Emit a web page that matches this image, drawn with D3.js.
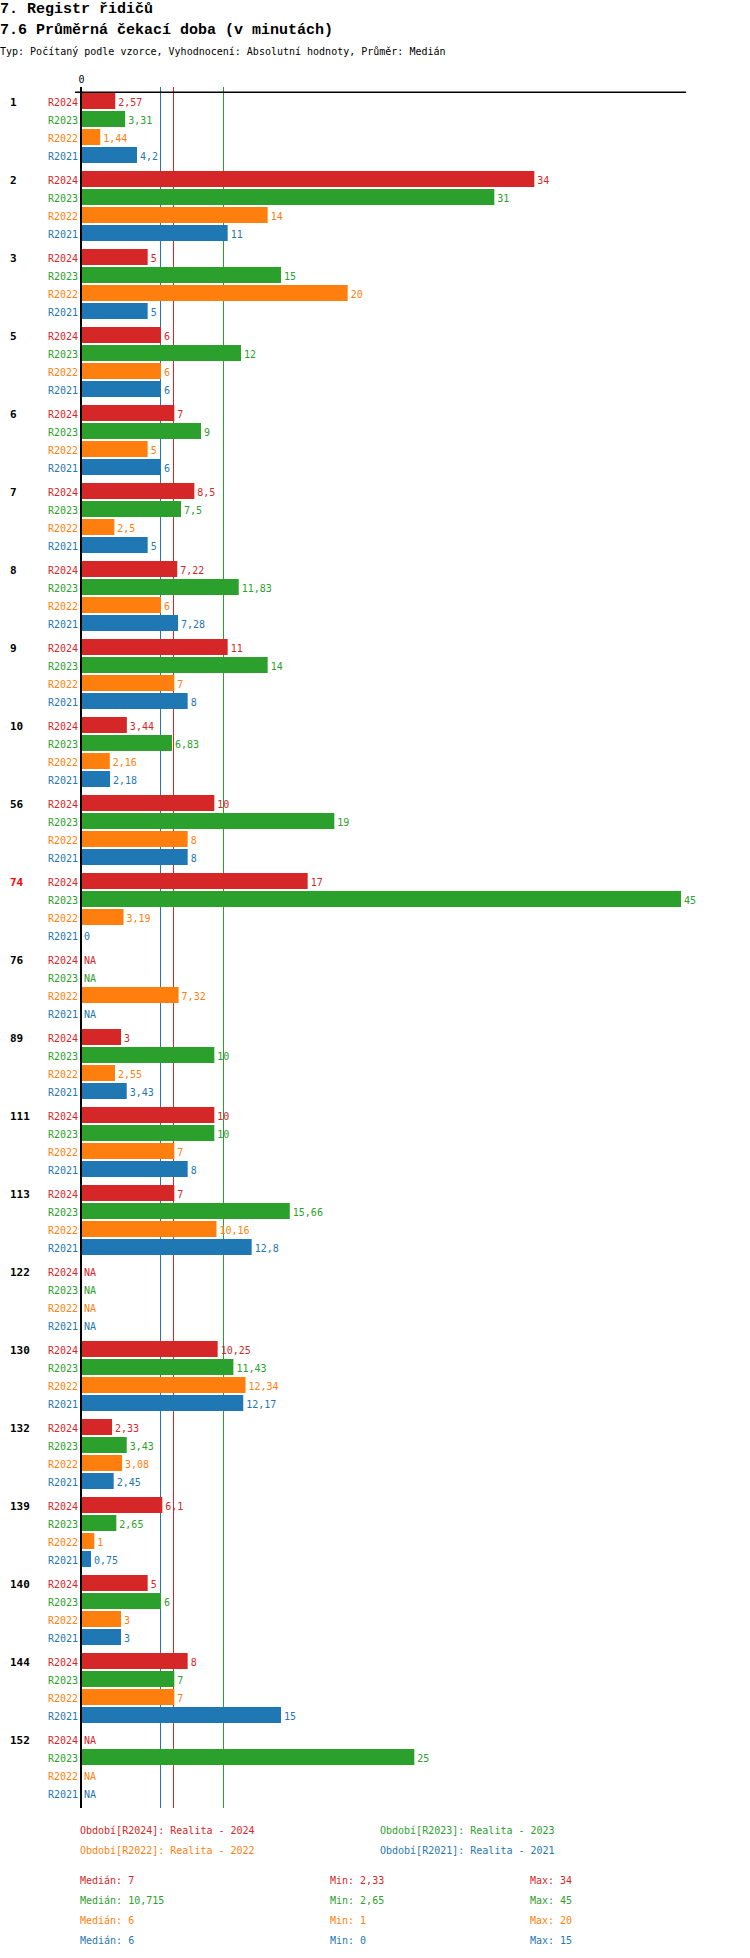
<!DOCTYPE html>
<meta charset="utf-8">
<style>
  body { margin: 0; background: #fff; }
  text { font-family: "DejaVu Sans Mono", monospace; }
</style>
<svg width="750" height="1958"></svg>

<script src="https://d3js.org/d3.v7.min.js"></script>

<script>
// data, null = NA
const categories = ['1', '2', '3', '5', '6', '7', '8', '9', '10', '56', '74', '76', '89', '111', '113', '122', '130', '132', '139', '140', '144', '152']
const series = ['R2024', 'R2023', 'R2022', 'R2021']
const seriesNames = ['Realita - 2024', 'Realita - 2023', 'Realita - 2022', 'Realita - 2021']
const r2024 = [2.57, 34, 5, 6, 7, 8.5, 7.22, 11, 3.44, 10, 17, null, 3, 10, 7, null, 10.25, 2.33, 6.1, 5, 8, null]
const r2023 = [3.31, 31, 15, 12, 9, 7.5, 11.83, 14, 6.83, 19, 45, null, 10, 10, 15.66, null, 11.43, 3.43, 2.65, 6, 7, 25]
const r2022 = [1.44, 14, 20, 6, 5, 2.5, 6, 7, 2.16, 8, 3.19, 7.32, 2.55, 7, 10.16, null, 12.34, 3.08, 1, 3, 7, null]
const r2021 = [4.2, 11, 5, 6, 6, 5, 7.28, 8, 2.18, 8, 0, null, 3.43, 8, 12.8, null, 12.17, 2.45, 0.75, 3, 15, null]
const highlighted = ['74']

const values = [r2024, r2023, r2022, r2021]
const colours = ['#d62728', '#2ca02c', '#ff7f0e', '#1f77b4']
const colour = d3.scaleOrdinal().domain(series).range(colours)

const svg = d3.select('svg')
const fmt = v => v === null ? 'NA' : String(+v.toFixed(3)).replace('.', ',')

// titles
svg.append('text').attr('x', 0).attr('y', 13)
  .style('font-family', '"Liberation Mono", monospace').attr('font-weight', 'bold').attr('font-size', 15)
  .text('7. Registr řidičů')
svg.append('text').attr('x', 0).attr('y', 34)
  .style('font-family', '"Liberation Mono", monospace').attr('font-weight', 'bold').attr('font-size', 15)
  .text('7.6 Průměrná čekací doba (v minutách)')
svg.append('text').attr('x', 0).attr('y', 55).attr('font-size', 10)
  .text('Typ: Počítaný podle vzorce, Vyhodnocení: Absolutní hodnoty, Průměr: Medián')

// scales
const x = d3.scaleLinear().domain([0, 45]).range([80, 680])
const y = d3.scaleBand().domain(categories).range([93, 93 + categories.length * 78])
const yInner = d3.scaleBand().domain(series).range([0, 70]).paddingInner(2 / 18)

const lineTop = 87, lineBottom = y.range()[1] - 1

const rows = []
categories.forEach((c, i) => {
  series.forEach((s, j) => rows.push({ cat: c, s: s, v: values[j][i] }))
})

const stats = series.map((s, j) => {
  const vs = values[j].filter(v => v !== null)
  return { s: s, median: d3.median(vs), min: d3.min(vs), max: d3.max(vs) }
})

// median lines (behind bars)
svg.append('g')
  .selectAll('line')
  .data(stats)
  .enter().append('line')
  .attr('x1', d => Math.round(x(d.median)) + 0.5)
  .attr('x2', d => Math.round(x(d.median)) + 0.5)
  .attr('y1', lineTop).attr('y2', lineBottom)
  .attr('stroke', d => colour(d.s))
  .attr('stroke-width', 1)

// axis
const axis = svg.append('g')
  .attr('transform', 'translate(1,' + 87 + ')')
  .call(d3.axisTop(x).tickValues([0]).tickSize(0).tickPadding(4))
axis.select('.domain').remove()
axis.selectAll('text').attr('font-size', 10).style('font-family', '"DejaVu Sans Mono", monospace').attr('fill', '#000')

svg.append('line')
  .attr('x1', x(0) - 5).attr('x2', x(45) + 6)
  .attr('y1', 92.3).attr('y2', 92.3)
  .attr('stroke', '#000').attr('stroke-width', 1.4)

// bars
svg.append('g')
  .selectAll('rect')
  .data(rows.filter(d => d.v !== null))
  .enter().append('rect')
  .attr('x', x(0) + 1)
  .attr('y', d => y(d.cat) + yInner(d.s))
  .attr('width', d => x(d.v) - x(0))
  .attr('height', yInner.bandwidth())
  .attr('fill', d => colour(d.s))

// zero line
svg.append('line')
  .attr('x1', x(0) + 1).attr('x2', x(0) + 1)
  .attr('y1', lineTop).attr('y2', lineBottom)
  .attr('stroke', '#000').attr('stroke-width', 2)

// value labels
svg.append('g')
  .selectAll('text')
  .data(rows)
  .enter().append('text')
  .attr('x', d => x(d.v || 0) + 4)
  .attr('y', d => y(d.cat) + yInner(d.s) + yInner.bandwidth() / 2 + 1)
  .attr('dy', '0.35em')
  .attr('font-size', 10)
  .attr('fill', d => colour(d.s))
  .text(d => fmt(d.v))

// series labels
svg.append('g')
  .selectAll('text')
  .data(rows)
  .enter().append('text')
  .attr('x', x(0) - 2)
  .attr('y', d => y(d.cat) + yInner(d.s) + yInner.bandwidth() / 2 + 1)
  .attr('dy', '0.35em')
  .attr('text-anchor', 'end')
  .attr('font-size', 10)
  .attr('fill', d => colour(d.s))
  .text(d => d.s)

// category labels
svg.append('g')
  .selectAll('text')
  .data(categories)
  .enter().append('text')
  .attr('x', 10)
  .attr('y', d => y(d) + yInner.bandwidth() / 2 + 1)
  .attr('dy', '0.35em')
  .attr('font-size', 11)
  .attr('font-weight', 'bold')
  .attr('fill', d => highlighted.includes(d) ? '#ff0000' : '#000')
  .text(d => d)

// legend
svg.append('g')
  .selectAll('text')
  .data(series)
  .enter().append('text')
  .attr('x', (d, i) => i % 2 ? 380 : 80)
  .attr('y', (d, i) => 1834 + Math.floor(i / 2) * 20)
  .attr('font-size', 10)
  .attr('fill', d => colour(d))
  .text((d, i) => 'Období[' + d + ']: ' + seriesNames[i])

const statCols = [
  { x: 80, label: 'Medián: ', key: 'median' },
  { x: 330, label: 'Min: ', key: 'min' },
  { x: 530, label: 'Max: ', key: 'max' }
]
statCols.forEach(col => {
  svg.append('g')
    .selectAll('text')
    .data(stats)
    .enter().append('text')
    .attr('x', col.x)
    .attr('y', (d, i) => 1884 + i * 20)
    .attr('font-size', 10)
    .attr('fill', d => colour(d.s))
    .text(d => col.label + fmt(d[col.key]))
})
</script>
